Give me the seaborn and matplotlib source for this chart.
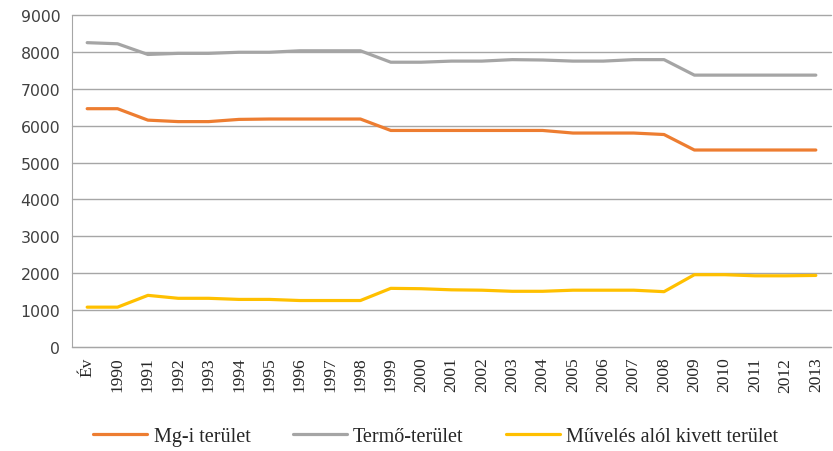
import pandas as pd
import seaborn as sns
import matplotlib

matplotlib.use('Agg')
import matplotlib.pyplot as plt

# kategóriák (x tengely)
evek = ["Év"] + [str(y) for y in range(1990, 2014)]

# sorozatok (ha)
mg_terulet = [6460, 6460, 6150, 6110, 6110, 6170, 6180, 6180, 6180, 6180,
              5870, 5870, 5870, 5870, 5870, 5870, 5800, 5800, 5800, 5760,
              5340, 5340, 5340, 5340, 5340]
termo_terulet = [8250, 8220, 7930, 7960, 7960, 7990, 7990, 8030, 8030, 8030,
                 7720, 7720, 7750, 7750, 7790, 7780, 7750, 7750, 7790, 7790,
                 7370, 7370, 7370, 7370, 7370]
muveles_alol = [1080, 1080, 1400, 1320, 1320, 1290, 1290, 1260, 1260, 1260,
                1590, 1580, 1550, 1540, 1510, 1510, 1540, 1540, 1540, 1500,
                1960, 1960, 1930, 1930, 1940]

series_names = ["Mg-i terület", "Termő-terület", "Művelés alól kivett terület"]
colors = ["#ED7D31", "#A5A5A5", "#FFC000"]

df = pd.DataFrame({"x": list(range(len(evek))) * 3,
                   "value": mg_terulet + termo_terulet + muveles_alol,
                   "series": [n for n in series_names for _ in evek]})

sns.set_style("white")
fig = plt.figure(figsize=(8.33, 4.52), dpi=100)
ax = fig.add_axes([72 / 833, 1 - 348 / 452, (831 - 72) / 833, (348 - 16) / 452])

sns.lineplot(data=df, x="x", y="value", hue="series", palette=colors,
             hue_order=series_names, linewidth=2.3, ax=ax, legend=False)

grid_c = "#a6a6a6"
ax.set_xlim(-0.5, len(evek) - 0.5)
ax.set_ylim(0, 9000)
ax.set_yticks(range(0, 9001, 1000))
ax.yaxis.grid(True, color=grid_c, linewidth=1, clip_on=False)
ax.set_axisbelow(True)
ax.set_xticks(range(len(evek)))
ax.set_xticklabels(evek, rotation=90, family="Liberation Serif", fontsize=12.5)
ax.set_xticks([i - 0.5 for i in range(len(evek) + 1)], minor=True)
ax.tick_params(axis="x", which="major", length=0, pad=7)
ax.tick_params(axis="x", which="minor", length=5, color=grid_c, width=1)
ax.tick_params(axis="y", length=5, color=grid_c, width=1, labelsize=11.3,
               labelcolor="#404040")
for lbl in ax.get_yticklabels():
    lbl.set_family("DejaVu Sans")
for s in ["top", "right"]:
    ax.spines[s].set_visible(False)
for s in ["left", "bottom"]:
    ax.spines[s].set_color(grid_c)
ax.set_xlabel("")
ax.set_ylabel("")

handles = [plt.Line2D([], [], color=c, linewidth=2.3) for c in colors]
fig.legend(handles, series_names, loc="center", bbox_to_anchor=(0.523, 1 - 437 / 452),
           ncol=3, frameon=False, prop={"family": "Liberation Serif", "size": 14.5},
           handlelength=2.7, columnspacing=2.1, handletextpad=0.3)

fig.savefig("out.png", dpi=100)
